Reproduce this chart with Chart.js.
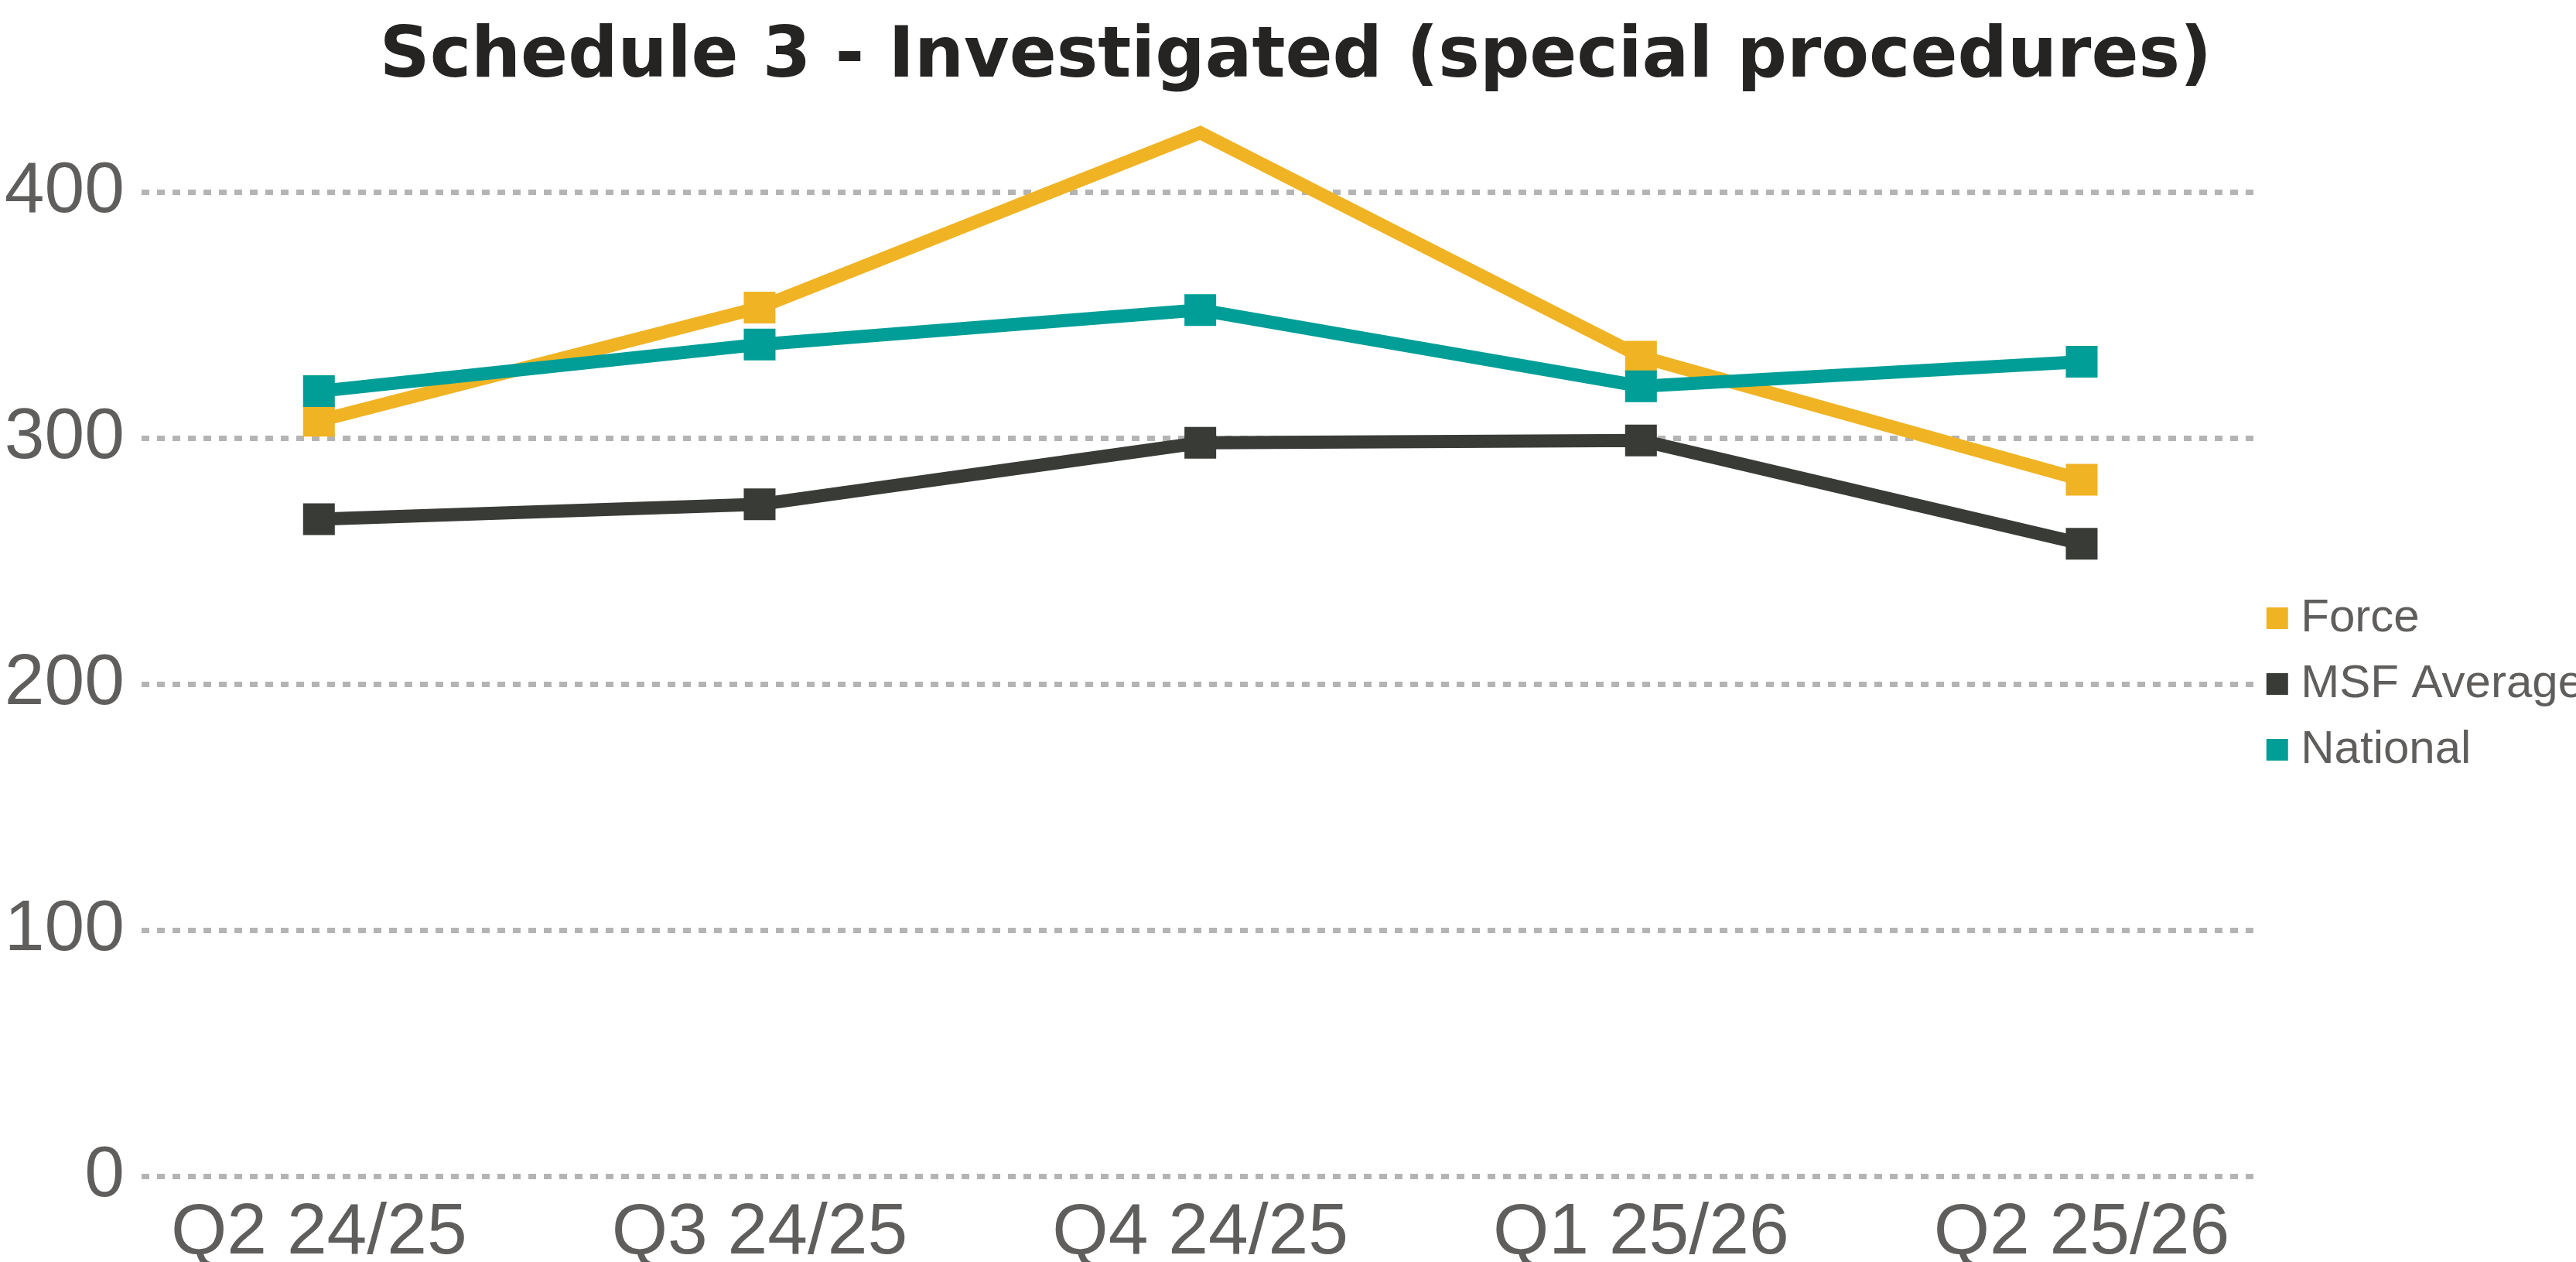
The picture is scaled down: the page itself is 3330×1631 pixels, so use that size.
<!DOCTYPE html>
<html>
<head>
<meta charset="utf-8">
<title>Schedule 3 - Investigated (special procedures)</title>
<script src="https://cdn.jsdelivr.net/npm/chart.js@4.4.0/dist/chart.umd.min.js"></script>
<style>
  html, body { margin: 0; padding: 0; background: #fff; overflow: hidden; }
  #chart { display: block; }
</style>
</head>
<body>
<canvas id="chart" width="3330" height="1631"></canvas>
<script>
"use strict";

/* =========================================================================
  Data
=========================================================================== */
const CATEGORIES = ["Q2 24/25", "Q3 24/25", "Q4 24/25", "Q1 25/26", "Q2 25/26"];
const FORCE = [307, 353, 424, 333, 283];
const MSF_AVERAGE = [267, 273, 298, 299, 257];
const NATIONAL = [319, 338, 352, 321, 331];
const Y_TICKS = [0, 100, 200, 300, 400];

const TITLE = "Schedule 3 - Investigated (special procedures)";

/* =========================================================================
  Style
=========================================================================== */
const COLORS = {
  force: "#F0B323",
  msf: "#393B37",
  national: "#009E97",
  label: "#605E5C",
  title: "#252423",
  grid: "#B4B4B4",
};
const LABEL_FONT = "'Liberation Sans', Arial, sans-serif";

function makeSeries(label, values, color, order) {
  return {
    label,
    data: values.map((y, i) => ({ x: i, y })),
    borderColor: color,
    backgroundColor: color,
    borderWidth: 17,
    tension: 0,
    pointStyle: "rect",
    pointRadius: 29,
    pointHoverRadius: 29,
    pointBackgroundColor: color,
    pointBorderWidth: 0,
    clip: false,
    order, // lower order is drawn on top
  };
}

/* =========================================================================
  Chart
=========================================================================== */
new Chart(document.getElementById("chart"), {
  type: "line",
  data: {
    datasets: [
      makeSeries("Force", FORCE, COLORS.force, 3),
      makeSeries("MSF Average", MSF_AVERAGE, COLORS.msf, 2),
      makeSeries("National", NATIONAL, COLORS.national, 1),
    ],
  },
  options: {
    responsive: false,
    animation: false,
    events: [],
    // negative right padding: the legend runs off the edge, as in the original
    layout: { padding: { left: 0, right: -20, top: 0, bottom: 0 } },
    scales: {
      x: {
        type: "linear",
        min: -0.4025,
        max: 4.399,
        afterBuildTicks: (scale) => {
          scale.ticks = CATEGORIES.map((_, i) => ({ value: i }));
        },
        afterFit: (scale) => {
          scale.height = 111;
        },
        ticks: {
          callback: (value) => CATEGORIES[value],
          autoSkip: false,
          maxRotation: 0,
          padding: 32,
          color: COLORS.label,
          font: { family: LABEL_FONT, size: 93, lineHeight: 0.92 },
        },
        grid: { display: false, drawTicks: false },
        border: { display: false },
      },
      y: {
        min: 0,
        max: 400,
        afterBuildTicks: (scale) => {
          scale.ticks = Y_TICKS.map((v) => ({ value: v }));
        },
        afterFit: (scale) => {
          scale.width = 183;
        },
        ticks: {
          padding: 22,
          color: COLORS.label,
          font: { family: LABEL_FONT, size: 93, lineHeight: 1 },
        },
        grid: { color: COLORS.grid, lineWidth: 7, drawTicks: false },
        border: { display: false, dash: [10, 10] },
      },
    },
    plugins: {
      title: {
        display: true,
        text: TITLE,
        color: COLORS.title,
        font: { family: "'DejaVu Sans', sans-serif", size: 90, weight: "bold", lineHeight: 1.2 },
        padding: { top: 22, bottom: 118 },
      },
      legend: {
        display: true,
        position: "right",
        fullSize: false,
        reverse: true,
        labels: {
          usePointStyle: true,
          boxWidth: 1,
          boxHeight: 28,
          padding: 25,
          color: COLORS.label,
          font: { family: LABEL_FONT, size: 60, lineHeight: 1 },
        },
      },
      tooltip: { enabled: false },
    },
  },
});
</script>
</body>
</html>
